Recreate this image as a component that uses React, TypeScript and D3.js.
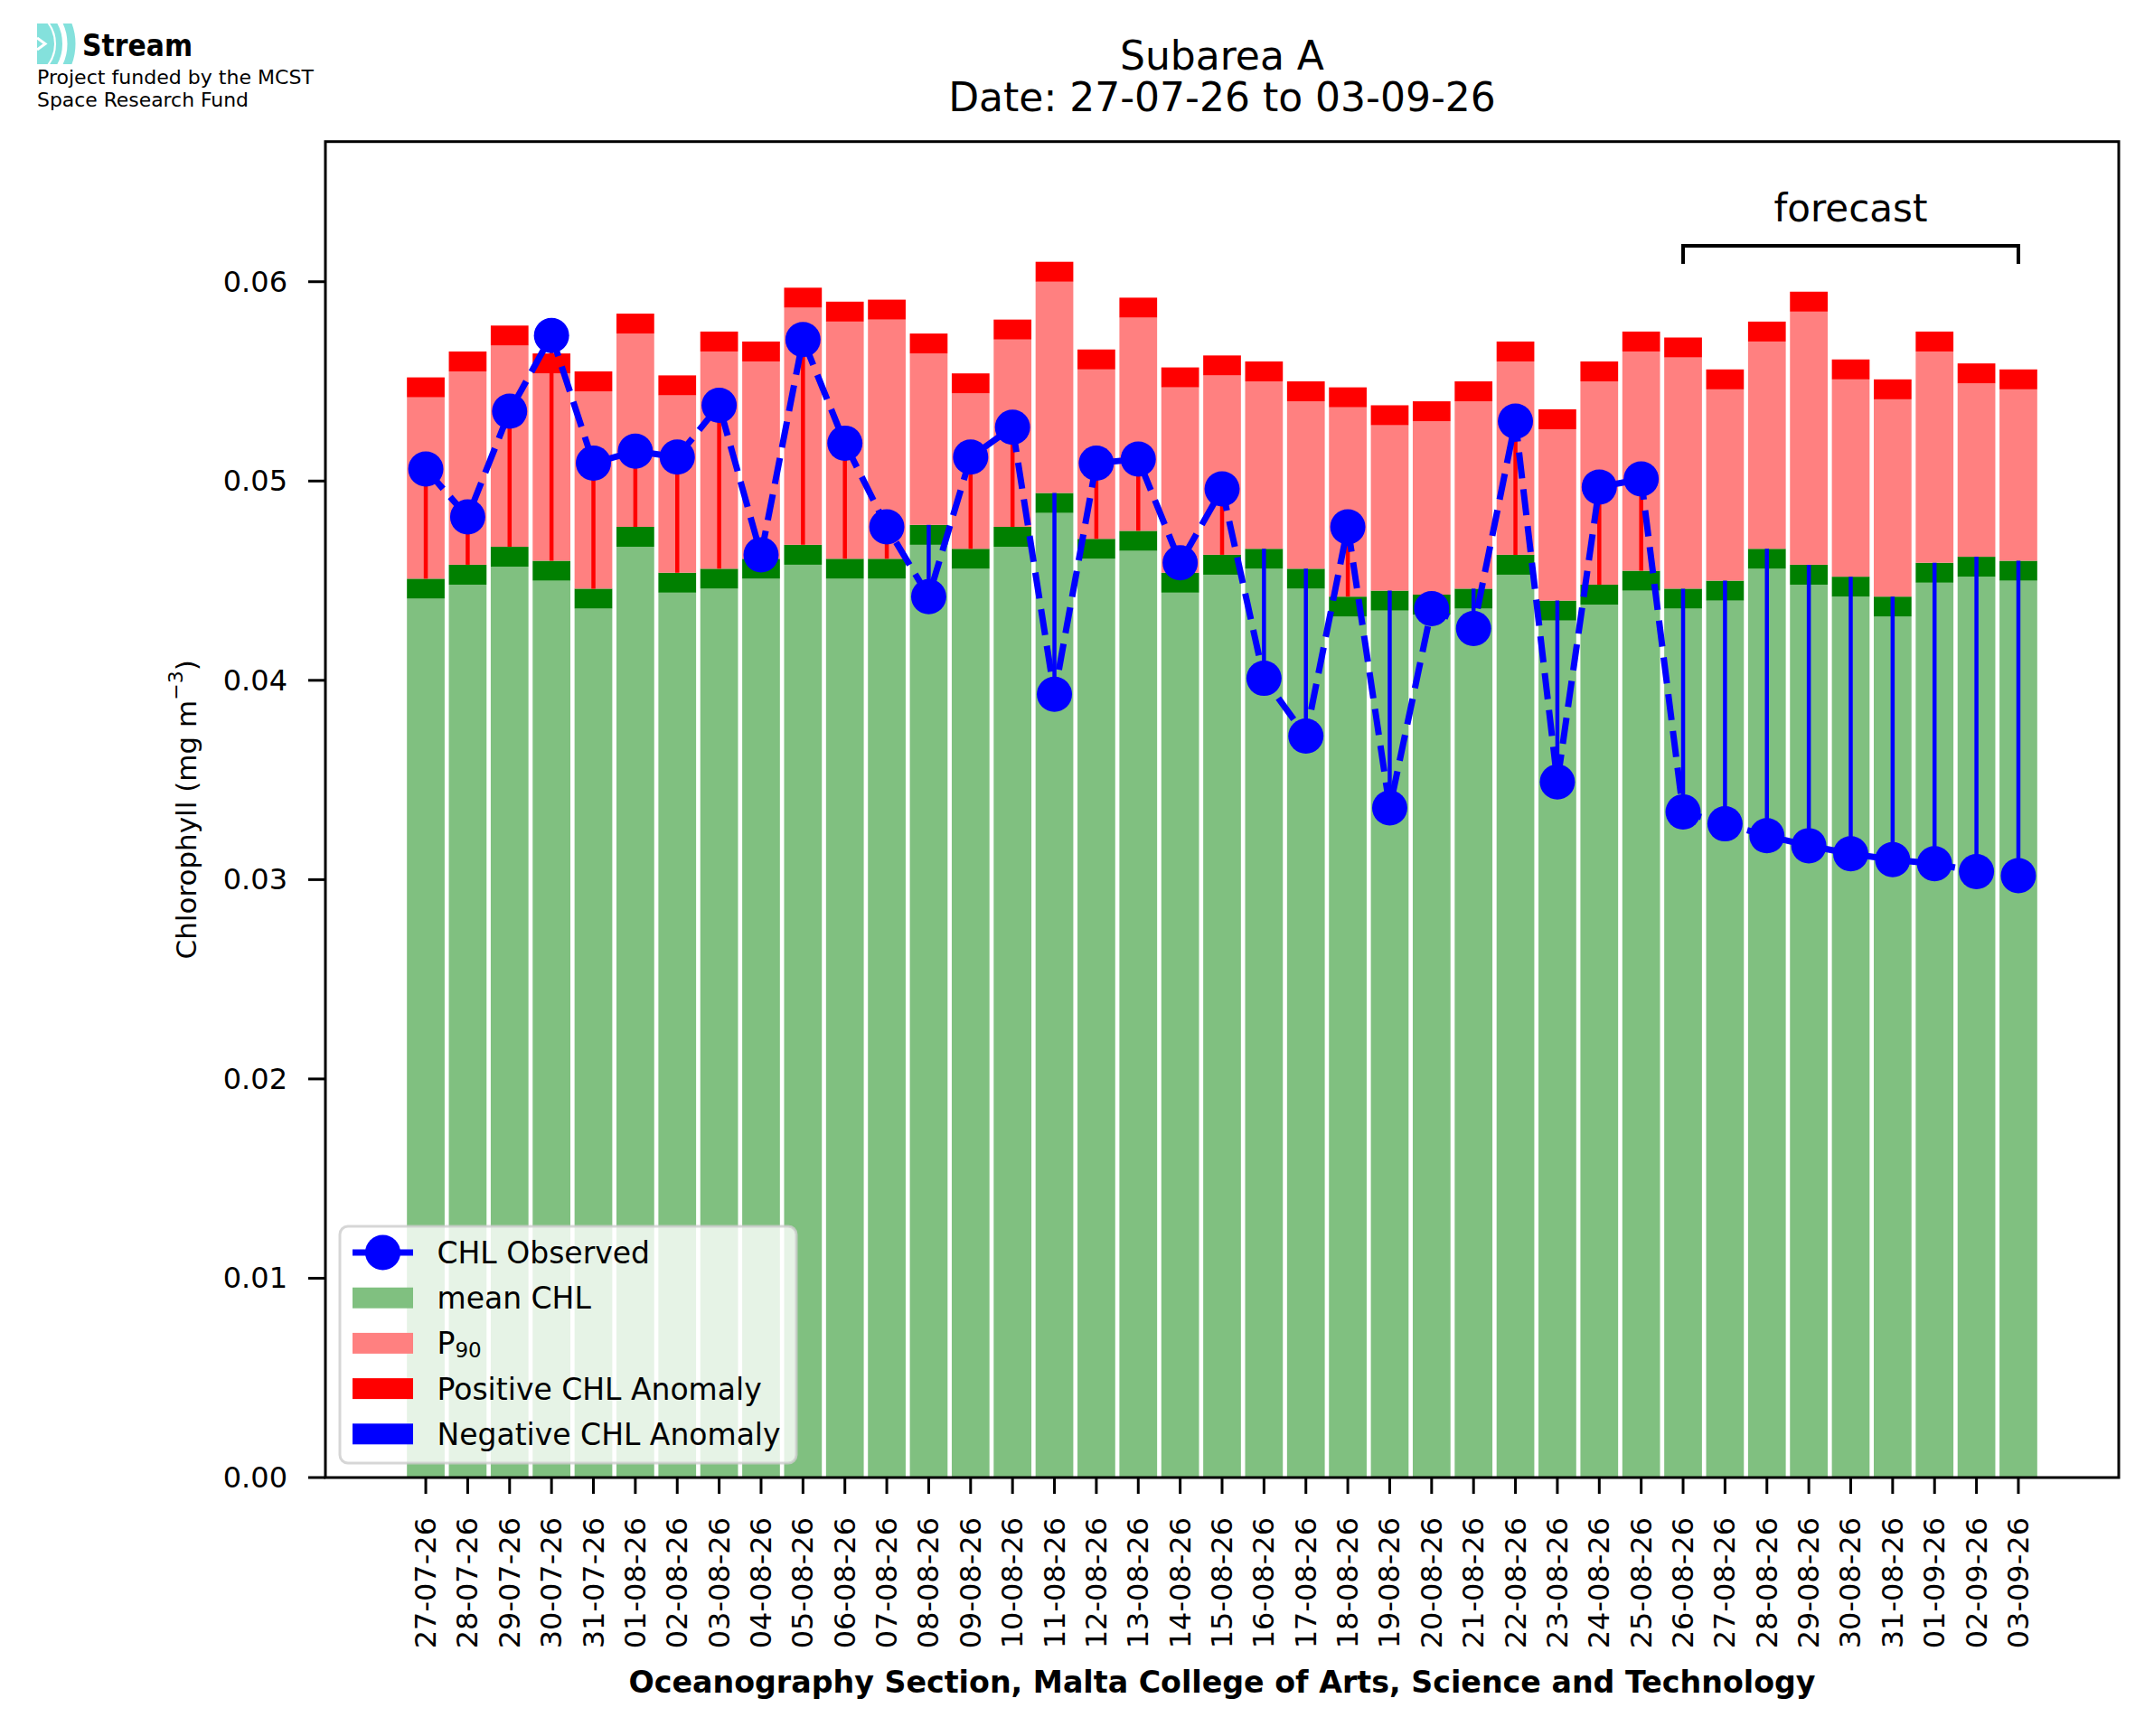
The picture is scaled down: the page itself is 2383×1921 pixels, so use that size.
import * as d3 from 'd3';
import React, { useEffect, useRef } from 'react';

// dates on the x axis
const dates = [
  '27-07-26', '28-07-26', '29-07-26', '30-07-26', '31-07-26',
  '01-08-26', '02-08-26', '03-08-26', '04-08-26', '05-08-26', '06-08-26', '07-08-26',
  '08-08-26', '09-08-26', '10-08-26', '11-08-26', '12-08-26', '13-08-26', '14-08-26',
  '15-08-26', '16-08-26', '17-08-26', '18-08-26', '19-08-26', '20-08-26', '21-08-26',
  '22-08-26', '23-08-26', '24-08-26', '25-08-26', '26-08-26', '27-08-26', '28-08-26',
  '29-08-26', '30-08-26', '31-08-26', '01-09-26', '02-09-26', '03-09-26',
];

// mean CHL (top of the dark green band)
const meanChl = [
  0.0451, 0.0458, 0.0467, 0.046, 0.0446, 0.0477, 0.0454, 0.0456, 0.0461, 0.0468,
  0.0461, 0.0461, 0.0478, 0.0466, 0.0477, 0.0494, 0.0471, 0.0475, 0.0454, 0.0463,
  0.0466, 0.0456, 0.0442, 0.0445, 0.0443, 0.0446, 0.0463, 0.044, 0.0448, 0.0455,
  0.0446, 0.045, 0.0466, 0.0458, 0.0452, 0.0442, 0.0459, 0.0462, 0.046,
];

// 90th percentile
const p90Chl = [
  0.0542, 0.0555, 0.0568, 0.0554, 0.0545, 0.0574, 0.0543, 0.0565, 0.056, 0.0587,
  0.058, 0.0581, 0.0564, 0.0544, 0.0571, 0.06, 0.0556, 0.0582, 0.0547, 0.0553,
  0.055, 0.054, 0.0537, 0.0528, 0.053, 0.054, 0.056, 0.0526, 0.055, 0.0565,
  0.0562, 0.0546, 0.057, 0.0585, 0.0551, 0.0541, 0.0565, 0.0549, 0.0546,
];

// observed / forecast CHL
const obsChl = [
  0.0506, 0.0482, 0.0535, 0.0573, 0.0509, 0.0515, 0.0512, 0.0538, 0.0463, 0.0571,
  0.0519, 0.0477, 0.0442, 0.0512, 0.0527, 0.0393, 0.0509, 0.0511, 0.0459, 0.0496,
  0.0401, 0.0372, 0.0477, 0.0336, 0.0436, 0.0426, 0.053, 0.0349, 0.0497, 0.0501,
  0.0334, 0.0328, 0.0322, 0.0317, 0.0313, 0.031, 0.0308, 0.0304, 0.0302,
];

const yTicks = [0, 0.01, 0.02, 0.03, 0.04, 0.05, 0.06];
const band = 0.001; // thickness of the mean / P90 marker bands
const forecastFrom = '26-08-26';
const forecastTo = '03-09-26';

const W = 2383;
const H = 1921;
const FONT = 'DejaVu Sans, sans-serif';

const App = () => {
  const svgRef = useRef(null);

  useEffect(() => {
    const svg = d3.select(svgRef.current);
    svg.selectAll('*').remove();

    const left = 360, right = 2344, top = 156.7, bottom = 1635;

    const x = d3.scaleLinear().domain([-2.395, dates.length - 1 + 2.395]).range([left, right]);
    const y = d3.scaleLinear().domain([0, 0.06703]).range([bottom, top]);
    const hw = 0.45;

    // logo
    const logo = svg.append('g');
    logo.append('clipPath').attr('id', 'logoclip')
      .append('rect').attr('x', 41).attr('y', 26).attr('width', 43).attr('height', 45);
    const lg = logo.append('g').attr('clip-path', 'url(#logoclip)');
    lg.append('circle').attr('cx', 22).attr('cy', 48.5).attr('r', 38).attr('fill', '#84e1dc');
    lg.append('circle').attr('cx', 22).attr('cy', 48.5).attr('r', 43.5)
      .attr('fill', 'none').attr('stroke', '#84e1dc').attr('stroke-width', 7);
    lg.append('circle').attr('cx', 22).attr('cy', 48.5).attr('r', 57)
      .attr('fill', 'none').attr('stroke', '#84e1dc').attr('stroke-width', 9);
    lg.append('path').attr('d', 'M41,42 L50,48.5 L41,55')
      .attr('fill', 'none').attr('stroke', 'white').attr('stroke-width', 3);
    logo.append('text').attr('x', 91).attr('y', 62).attr('font-family', FONT)
      .attr('font-weight', 'bold').attr('font-size', 33)
      .attr('textLength', 122).attr('lengthAdjust', 'spacingAndGlyphs').text('Stream');
    logo.append('text').attr('x', 41).attr('y', 93).attr('font-family', FONT)
      .attr('font-size', 22).attr('textLength', 306).attr('lengthAdjust', 'spacingAndGlyphs')
      .text('Project funded by the MCST');
    logo.append('text').attr('x', 41).attr('y', 118).attr('font-family', FONT)
      .attr('font-size', 22).attr('textLength', 234).attr('lengthAdjust', 'spacingAndGlyphs')
      .text('Space Research Fund');

    // title
    const cx = (left + right) / 2;
    svg.append('text').attr('x', cx).attr('y', 77).attr('text-anchor', 'middle')
      .attr('font-family', FONT).attr('font-size', 44).text('Subarea A');
    svg.append('text').attr('x', cx).attr('y', 123).attr('text-anchor', 'middle')
      .attr('font-family', FONT).attr('font-size', 44)
      .text(`Date: ${dates[0]} to ${dates[dates.length - 1]}`);

    // bars
    const bars = svg.append('g');
    dates.forEach((d, i) => {
      const x0 = x(i - hw);
      const bw = x(i + hw) - x(i - hw);
      const m = meanChl[i];
      const p = p90Chl[i];
      bars.append('rect').attr('x', x0).attr('width', bw)
        .attr('y', y(m - band)).attr('height', y(0) - y(m - band)).attr('fill', '#80c080');
      bars.append('rect').attr('x', x0).attr('width', bw)
        .attr('y', y(m)).attr('height', y(m - band) - y(m)).attr('fill', '#008000');
      bars.append('rect').attr('x', x0).attr('width', bw)
        .attr('y', y(p)).attr('height', y(m) - y(p)).attr('fill', '#ff8080');
      bars.append('rect').attr('x', x0).attr('width', bw)
        .attr('y', y(p + band)).attr('height', y(p) - y(p + band)).attr('fill', '#ff0000');
    });

    // anomaly lines
    dates.forEach((d, i) => {
      const o = obsChl[i];
      const m = meanChl[i];
      svg.append('line').attr('x1', x(i)).attr('x2', x(i))
        .attr('y1', y(m)).attr('y2', y(o))
        .attr('stroke', o >= m ? '#ff0000' : '#0000ff').attr('stroke-width', 4.5);
    });

    // observed line
    const line = d3.line<number>().x((d, i) => x(i)).y((d) => y(d));
    svg.append('path').attr('d', line(obsChl)).attr('fill', 'none')
      .attr('stroke', '#0000ff').attr('stroke-width', 7).attr('stroke-dasharray', '29,12');
    svg.append('g').selectAll('circle').data(obsChl).enter().append('circle')
      .attr('cx', (d, i) => x(i)).attr('cy', (d) => y(d)).attr('r', 19.5).attr('fill', '#0000ff');

    // axes frame
    svg.append('rect').attr('x', left).attr('y', top).attr('width', right - left)
      .attr('height', bottom - top).attr('fill', 'none').attr('stroke', 'black').attr('stroke-width', 3);

    // y ticks
    yTicks.forEach((t) => {
      svg.append('line').attr('x1', left - 19).attr('x2', left).attr('y1', y(t)).attr('y2', y(t))
        .attr('stroke', 'black').attr('stroke-width', 3);
      svg.append('text').attr('x', left - 42).attr('y', y(t)).attr('text-anchor', 'end')
        .attr('dominant-baseline', 'central').attr('font-family', FONT).attr('font-size', 32)
        .text(d3.format('.2f')(t));
    });

    // x ticks
    dates.forEach((d, i) => {
      svg.append('line').attr('x1', x(i)).attr('x2', x(i)).attr('y1', bottom).attr('y2', bottom + 18)
        .attr('stroke', 'black').attr('stroke-width', 3);
      svg.append('text').attr('transform', `translate(${x(i)},${bottom + 44}) rotate(-90)`)
        .attr('text-anchor', 'end').attr('dominant-baseline', 'central')
        .attr('font-family', FONT).attr('font-size', 32).text(d);
    });

    // axis labels
    const yl = svg.append('text').attr('transform', `translate(206,${(top + bottom) / 2}) rotate(-90)`)
      .attr('text-anchor', 'middle').attr('dominant-baseline', 'central')
      .attr('font-family', FONT).attr('font-size', 31);
    yl.append('tspan').text('Chlorophyll (mg m');
    yl.append('tspan').attr('dy', -12).attr('font-size', 22).text('\u22123');
    yl.append('tspan').attr('dy', 12).text(')');

    svg.append('text').attr('x', cx).attr('y', 1873).attr('text-anchor', 'middle')
      .attr('font-family', FONT).attr('font-size', 33).attr('font-weight', 'bold')
      .attr('textLength', 1313).attr('lengthAdjust', 'spacingAndGlyphs')
      .text('Oceanography Section, Malta College of Arts, Science and Technology');

    // forecast bracket
    const fa = dates.indexOf(forecastFrom);
    const fb = dates.indexOf(forecastTo);
    svg.append('path')
      .attr('d', `M${x(fa)},${y(0.0609)} V${y(0.0618)} H${x(fb)} V${y(0.0609)}`)
      .attr('fill', 'none').attr('stroke', 'black').attr('stroke-width', 4);
    svg.append('text').attr('x', (x(fa) + x(fb)) / 2).attr('y', y(0.06302))
      .attr('text-anchor', 'middle').attr('font-family', FONT).attr('font-size', 42).text('forecast');

    // legend
    const leg = svg.append('g');
    leg.append('rect').attr('x', 376).attr('y', 1357).attr('width', 505).attr('height', 262)
      .attr('rx', 9).attr('fill', 'white').attr('fill-opacity', 0.8)
      .attr('stroke', '#cccccc').attr('stroke-opacity', 0.8).attr('stroke-width', 3);
    const rows = [1386, 1436.2, 1486.4, 1536.6, 1586.8];
    const hx0 = 390, hx1 = 457, tx = 483.5;
    leg.append('line').attr('x1', hx0).attr('x2', hx1).attr('y1', rows[0]).attr('y2', rows[0])
      .attr('stroke', '#0000ff').attr('stroke-width', 7).attr('stroke-dasharray', '29,12');
    leg.append('circle').attr('cx', (hx0 + hx1) / 2).attr('cy', rows[0]).attr('r', 19.5).attr('fill', '#0000ff');
    const patches = ['#80c080', '#ff8080', '#ff0000', '#0000ff'];
    patches.forEach((c, k) => {
      leg.append('rect').attr('x', hx0).attr('y', rows[k + 1] - 11.5).attr('width', hx1 - hx0)
        .attr('height', 23).attr('fill', c);
    });
    const labels = ['CHL Observed', 'mean CHL', null, 'Positive CHL Anomaly', 'Negative CHL Anomaly'];
    labels.forEach((l, k) => {
      const t = leg.append('text').attr('x', tx).attr('y', rows[k] + 12)
        .attr('font-family', FONT).attr('font-size', 33);
      if (l) t.text(l);
      else {
        t.append('tspan').text('P');
        t.append('tspan').attr('dy', 4).attr('font-size', 23).text('90');
      }
    });
  }, []);

  return (
    <div style={{ position: 'absolute', left: 0, top: 0, background: 'white' }}>
      <svg ref={svgRef} width={W} height={H} style={{ display: 'block' }}></svg>
    </div>
  );
};

export default App;
